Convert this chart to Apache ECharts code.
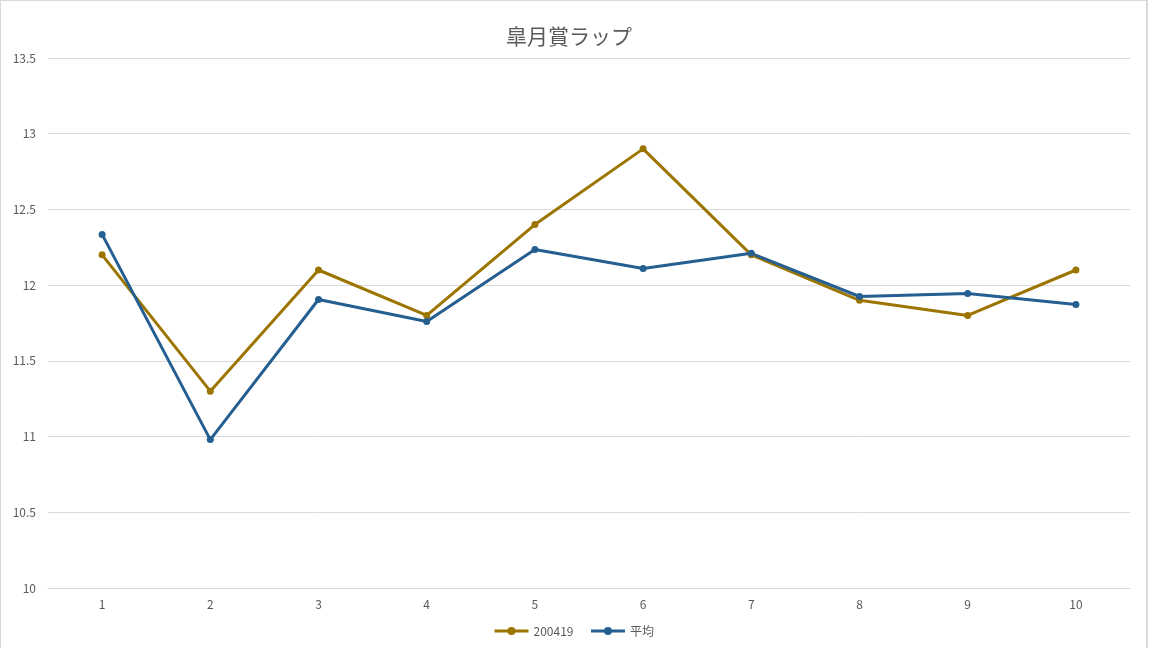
<!DOCTYPE html>
<html><head><meta charset="utf-8">
<script src="https://cdn.jsdelivr.net/npm/echarts@6/dist/echarts.min.js"></script>
<style>html,body{margin:0;padding:0;background:#fff}#c{width:1148px;height:648px;box-sizing:border-box;border:1px solid #d9d9d9;border-right:2px solid #d9d9d9;border-bottom:none;}</style>
</head><body><div id="c"></div>
<script>
const categories = ['1','2','3','4','5','6','7','8','9','10'];
const s200419 = [12.2, 11.3, 12.1, 11.8, 12.4, 12.9, 12.2, 11.9, 11.8, 12.1];
const sAvg = [12.335, 10.98, 11.905, 11.76, 12.236, 12.11, 12.21, 11.925, 11.945, 11.872];
const seriesNames = ['200419', '平均'];
const chart = echarts.init(document.getElementById('c'));
const font = '"Noto Sans CJK JP", "Noto Sans", sans-serif';
chart.setOption({
  animation: false,
  title: { text: '皐月賞ラップ', left: 500, top: 20, textStyle: { color: '#595959', fontSize: 21, fontWeight: 'normal', fontFamily: font } },
  legend: { bottom: 6, left: 'center', itemWidth: 34, itemHeight: 10, itemGap: 16, lineStyle: { width: 3 }, textStyle: { color: '#595959', fontSize: 12, fontFamily: font }, data: seriesNames },
  grid: { left: 47, right: 16, top: 57, bottom: 60 },
  xAxis: { type: 'category', data: categories, boundaryGap: true,
    axisLine: { lineStyle: { color: '#d9d9d9' } }, axisTick: { show: false },
    axisLabel: { color: '#595959', fontSize: 12, margin: 10, fontFamily: font } },
  yAxis: { type: 'value', min: 10, max: 13.5, interval: 0.5,
    axisLine: { show: false }, axisTick: { show: false },
    splitLine: { lineStyle: { color: '#d9d9d9' } },
    axisLabel: { color: '#595959', fontSize: 12, margin: 12, fontFamily: font } },
  series: [
    { name: seriesNames[0], type: 'line', data: s200419, symbol: 'circle', symbolSize: 7, lineStyle: { width: 3, color: '#9C7500' }, itemStyle: { color: '#9C7500' } },
    { name: seriesNames[1], type: 'line', data: sAvg, symbol: 'circle', symbolSize: 7, lineStyle: { width: 3, color: '#255E91' }, itemStyle: { color: '#255E91' } }
  ]
});
</script></body></html>
